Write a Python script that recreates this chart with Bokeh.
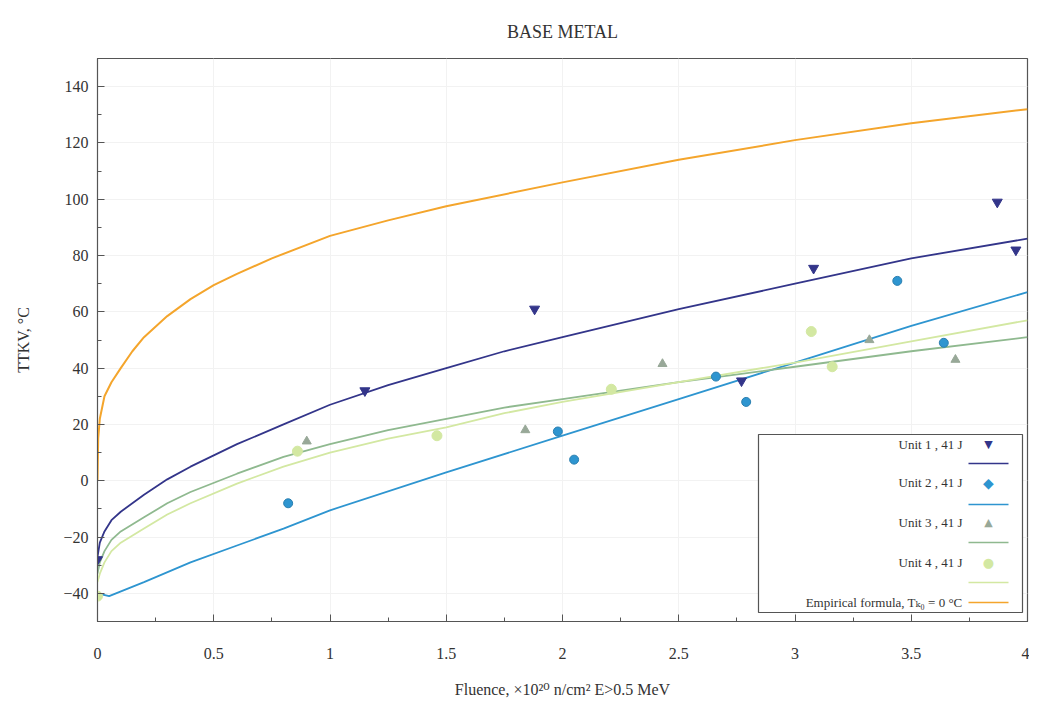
from bokeh.plotting import figure
from bokeh.models import Range1d, Label, BoxAnnotation, FixedTicker
from bokeh.embed import file_html
from bokeh.resources import INLINE

# ---- data ----
unit1_x = [0.0, 1.15, 1.88, 2.77, 3.08, 3.87, 3.95]
unit1_y = [-28, 32, 61, 35.5, 75.5, 99, 82]
unit2_x = [0.82, 1.98, 2.05, 2.66, 2.79, 3.44, 3.64]
unit2_y = [-8, 17.5, 7.5, 37, 28, 71, 49]
unit3_x = [0.90, 1.84, 2.43, 3.32, 3.69]
unit3_y = [14, 18, 41.5, 50, 43]
unit4_x = [0.0, 0.86, 1.46, 2.21, 3.07, 3.16]
unit4_y = [-41, 10.5, 16, 32.5, 53, 40.5]

fit_x = [0, 0.01, 0.03, 0.06, 0.1, 0.2, 0.3, 0.4, 0.6, 0.8, 1.0, 1.25, 1.5, 1.75,
         2.0, 2.5, 3.0, 3.5, 4.0]
fit1_y = [-27, -22, -18, -14, -11, -5, 0.5, 5, 13, 20, 27, 34, 40, 46,
          51, 61, 70, 79, 86]
fit3_y = [-33, -29, -25, -21, -18, -13, -8, -4, 2.5, 8.5, 13, 18, 22, 26,
          29, 35, 40.5, 46, 51]
fit4_y = [-36, -33, -29, -25, -22, -17, -12, -8, -1, 5, 10, 15, 19, 24,
          28, 35, 42, 49.5, 57]
fit2_x = [0, 0.05, 0.2, 0.4, 0.6, 0.8, 1.0, 1.5, 2.0, 2.5, 3.0, 3.5, 4.0]
fit2_y = [-40, -41, -36, -29, -23, -17, -10.5, 3, 16, 29, 42, 55, 67]

emp_x = [0, 0.003, 0.01, 0.03, 0.06, 0.1, 0.15, 0.2, 0.3, 0.4, 0.5, 0.6, 0.75,
         1.0, 1.25, 1.5, 2.0, 2.5, 3.0, 3.5, 4.0]
emp_y = [0, 15, 22, 30, 35, 40, 46, 51, 58.5, 64.5, 69.5, 73.5, 79,
         87, 92.5, 97.5, 106, 114, 121, 127, 132]

y_ticks = [-40, -20, 0, 20, 40, 60, 80, 100, 120, 140]
x_ticks = [0, 0.5, 1, 1.5, 2, 2.5, 3, 3.5, 4]
x_tick_labels = ["0", "0.5", "1", "1.5", "2", "2.5", "3", "3.5", "4"]

title_text = "BASE METAL"
legend_labels = ["Unit 1 , 41 J", "Unit 2 , 41 J", "Unit 3 , 41 J", "Unit 4 , 41 J",
                 "Empirical formula, T\u2096\u2080 = 0 \u00b0C"]

C1 = "#33358a"
C2 = "#2e95d0"
C3 = "#8fb98f"
C4 = "#d3e8a2"
CE = "#f4a52c"
M3 = "#98a898"

SERIF = "Liberation Serif, DejaVu Serif"

p = figure(width=1029, height=700, x_range=Range1d(0, 4), y_range=Range1d(-50, 150),
           output_backend="svg", toolbar_location=None,
           min_border_left=97, min_border_right=2, min_border_top=58, min_border_bottom=78,
           title=title_text)

p.title.align = "center"
p.title.vertical_align = "top"
p.title.text_font = SERIF
p.title.text_font_size = "18px"
p.title.text_font_style = "normal"
p.title.text_color = "#333333"
p.title.standoff = 30

p.outline_line_color = "#555555"
p.outline_line_width = 1.2
p.grid.grid_line_color = "#f2f2f2"

for ax in (p.xaxis[0], p.yaxis[0]):
    ax.major_label_text_font = SERIF
    ax.major_label_text_font_size = "16px"
    ax.major_label_text_color = "#333333"
    ax.axis_label_text_font = SERIF
    ax.axis_label_text_font_size = "16px"
    ax.axis_label_text_font_style = "normal"
    ax.axis_label_text_color = "#333333"
    ax.major_tick_in = 7
    ax.major_tick_out = 0
    ax.minor_tick_in = 4
    ax.minor_tick_out = 0
    ax.axis_line_color = "#555555"
    ax.major_tick_line_color = "#555555"
    ax.minor_tick_line_color = "#555555"

p.xaxis[0].ticker = FixedTicker(ticks=x_ticks, minor_ticks=[i * 0.25 for i in range(17)])
p.xaxis[0].major_label_overrides = {t: s for t, s in zip(x_ticks, x_tick_labels)}
p.yaxis[0].ticker = FixedTicker(ticks=y_ticks, minor_ticks=list(range(-50, 151, 10)))
p.xaxis[0].major_label_standoff = 26
p.yaxis[0].major_label_standoff = 9
p.xaxis[0].axis_label_standoff = 19
p.yaxis[0].axis_label_standoff = 28
p.xaxis[0].axis_label = "Fluence, \u00d710\u00b2\u2070 n/cm\u00b2 E>0.5 MeV"
p.yaxis[0].axis_label = "TTKV, \u00b0C"

# curves
p.line(emp_x, emp_y, line_color=CE, line_width=2)
p.line(fit_x, fit1_y, line_color=C1, line_width=1.8)
p.line(fit2_x, fit2_y, line_color=C2, line_width=1.8)
p.line(fit_x, fit3_y, line_color=C3, line_width=1.8)
p.line(fit_x, fit4_y, line_color=C4, line_width=1.8)

# points
p.scatter(unit4_x, unit4_y, marker="circle", size=10, fill_color=C4, line_color=C4)
p.scatter(unit3_x, unit3_y, marker="triangle", size=9, fill_color=M3, line_color=M3)
p.scatter(unit2_x, unit2_y, marker="circle", size=9, fill_color=C2, line_color="#2a7fb0")
p.scatter(unit1_x, unit1_y, marker="inverted_triangle", size=10, fill_color=C1, line_color=C1)

# legend (manual, label left / symbol right)
p.add_layout(BoxAnnotation(left=661, right=925, bottom=9, top=187,
                           left_units="screen", right_units="screen",
                           bottom_units="screen", top_units="screen",
                           fill_color="white", fill_alpha=1.0,
                           line_color="#555555", line_width=1.2, line_alpha=1.0))
text_rows = [177, 139, 99, 59, 19]
line_rows = [158, 117, 79, 39, 19]
sym = ["\u25bc", "\u25c6", "\u25b2", "\u25cf"]
sym_size = ["11px", "14px", "11px", "13px"]
sym_col = [C1, C2, M3, C4]
line_col = [C1, C2, C3, C4, CE]
for i, lab in enumerate(legend_labels):
    p.add_layout(Label(x=865, y=text_rows[i], x_units="screen", y_units="screen",
                       text=lab, text_align="right", text_baseline="middle",
                       text_font=SERIF, text_font_size="13px", text_color="#333333"))
    if i < 4:
        p.add_layout(Label(x=891, y=text_rows[i], x_units="screen", y_units="screen",
                           text=sym[i], text_align="center", text_baseline="middle",
                           text_font="DejaVu Sans", text_font_size=sym_size[i],
                           text_color=sym_col[i]))
    p.add_layout(BoxAnnotation(left=871, right=911, bottom=line_rows[i] - 0.8,
                               top=line_rows[i] + 0.8,
                               left_units="screen", right_units="screen",
                               bottom_units="screen", top_units="screen",
                               fill_color=line_col[i], fill_alpha=1.0, line_alpha=0))

open("out.html", "w").write(file_html(p, INLINE))
